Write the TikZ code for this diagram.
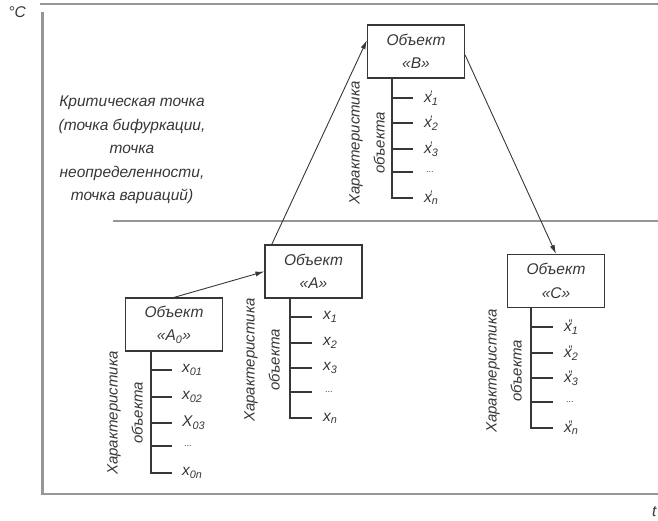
\documentclass[tikz,border=0pt]{standalone}
\usepackage{fontspec}
\setmainfont{Liberation Sans}
\definecolor{dgray}{RGB}{55,55,55}
\definecolor{lgray}{RGB}{150,150,150}
\usetikzlibrary{arrows.meta,calc}
% x with a prime above it and an index below
\newcommand{\xsub}[2]{x\llap{\raisebox{0.5ex}{\fontsize{11}{11}\selectfont#1}}\textsubscript{#2}}

\begin{document}
\begin{tikzpicture}[x=1pt, y=-1pt,
    every node/.style={font=\itshape\fontsize{15.5}{23.5}\selectfont, text=dgray},
    objbox/.style={draw=dgray, line width=1.2pt, minimum width=97pt,
      minimum height=53pt, inner sep=0pt, align=center},
    charlbl/.style={rotate=90, align=center, font=\itshape\fontsize{15}{25}\selectfont},
    itemlbl/.style={anchor=west, inner sep=1pt},
    dotslbl/.style={anchor=west, inner sep=1pt, font=\fontsize{9}{9}\selectfont},
    frame/.style={lgray, line width=2.5pt},
    tree/.style={dgray, line width=1.2pt},
    link/.style={-{Latex[length=9pt,width=5pt]}, dgray, line width=0.9pt}]
  \useasboundingbox (0,0) rectangle (658,521);

  % Frame: axes and the critical level
  \draw[frame] (40,4) -- (658,4);
  \draw[frame] (42.5,12) -- (42.5,494) -- (658,494);
  \draw[lgray, line width=2pt] (113,221) -- (658,221);
  \node (unit) at (17,12) {°C};
  \node[anchor=west, inner sep=0pt] (taxis) at (652,512) {t};

  \node[align=center] (crit) at (132,150)
    {Критическая точка\\(точка бифуркации,\\точка\\неопределенности,\\точка вариаций)};

  % Objects
  \node[objbox] (boxAo) at (174,324.5) {Объект\\«A\textsubscript{0}»};
  \node[objbox] (boxA) at (313.5,271.5) {Объект\\«A»};
  \node[objbox] (boxB) at (416,51.5) {Объект\\«B»};
  \node[objbox] (boxC) at (556,281) {Объект\\«C»};

  % Transitions
  \draw[link] (boxAo.north) -- (boxA.west);
  \draw[link] (boxA.147) -- (boxB.167);
  \draw[link] (boxB.-4) -- (boxC.north);

  % Characteristics of A0
  \draw[tree] (151,351) -- (151,473) -- (172,473)
    (151,370) -- (172,370) (151,397) -- (172,397)
    (151,423) -- (172,423) (151,446) -- (172,446);
  \node[charlbl] (lblAo) at (125,413) {Характеристика\\объекта};
  \node[itemlbl] (xAo1) at (181,370) {x\textsubscript{01}};
  \node[itemlbl] (xAo2) at (181,397) {x\textsubscript{02}};
  \node[itemlbl] (xAo3) at (181,423) {X\textsubscript{03}};
  \node[dotslbl] (xAo4) at (183,446) {...};
  \node[itemlbl] (xAon) at (181,473) {x\textsubscript{0n}};

  % Characteristics of A
  \draw[tree] (290,298) -- (290,418) -- (312,418)
    (290,317) -- (312,317) (290,343) -- (312,343)
    (290,368) -- (312,368) (290,392) -- (312,392);
  \node[charlbl] (lblA) at (262,360) {Характеристика\\объекта};
  \node[itemlbl] (xA1) at (322,317) {x\textsubscript{1}};
  \node[itemlbl] (xA2) at (322,343) {x\textsubscript{2}};
  \node[itemlbl] (xA3) at (322,368) {x\textsubscript{3}};
  \node[dotslbl] (xA4) at (324,392) {...};
  \node[itemlbl] (xAn) at (322,418) {x\textsubscript{n}};

  % Characteristics of B
  \draw[tree] (392,78) -- (392,198) -- (413,198)
    (392,98) -- (413,98) (392,123) -- (413,123)
    (392,149) -- (413,149) (392,172) -- (413,172);
  \node[charlbl] (lblB) at (367,143) {Характеристика\\объекта};
  \node[itemlbl] (xB1) at (423,98) {\xsub{′}{1}};
  \node[itemlbl] (xB2) at (423,123) {\xsub{′}{2}};
  \node[itemlbl] (xB3) at (423,149) {\xsub{′}{3}};
  \node[dotslbl] (xB4) at (425,172) {...};
  \node[itemlbl] (xBn) at (423,198) {\xsub{′}{n}};

  % Characteristics of C
  \draw[tree] (531,307.5) -- (531,428) -- (553,428)
    (531,327) -- (553,327) (531,353) -- (553,353)
    (531,378) -- (553,378) (531,402) -- (553,402);
  \node[charlbl] (lblC) at (504,371) {Характеристика\\объекта};
  \node[itemlbl] (xC1) at (563,327) {\xsub{″}{1}};
  \node[itemlbl] (xC2) at (563,353) {\xsub{″}{2}};
  \node[itemlbl] (xC3) at (563,378) {\xsub{″}{3}};
  \node[dotslbl] (xC4) at (565,402) {...};
  \node[itemlbl] (xCn) at (563,428) {\xsub{″}{n}};
\end{tikzpicture}
\end{document}
